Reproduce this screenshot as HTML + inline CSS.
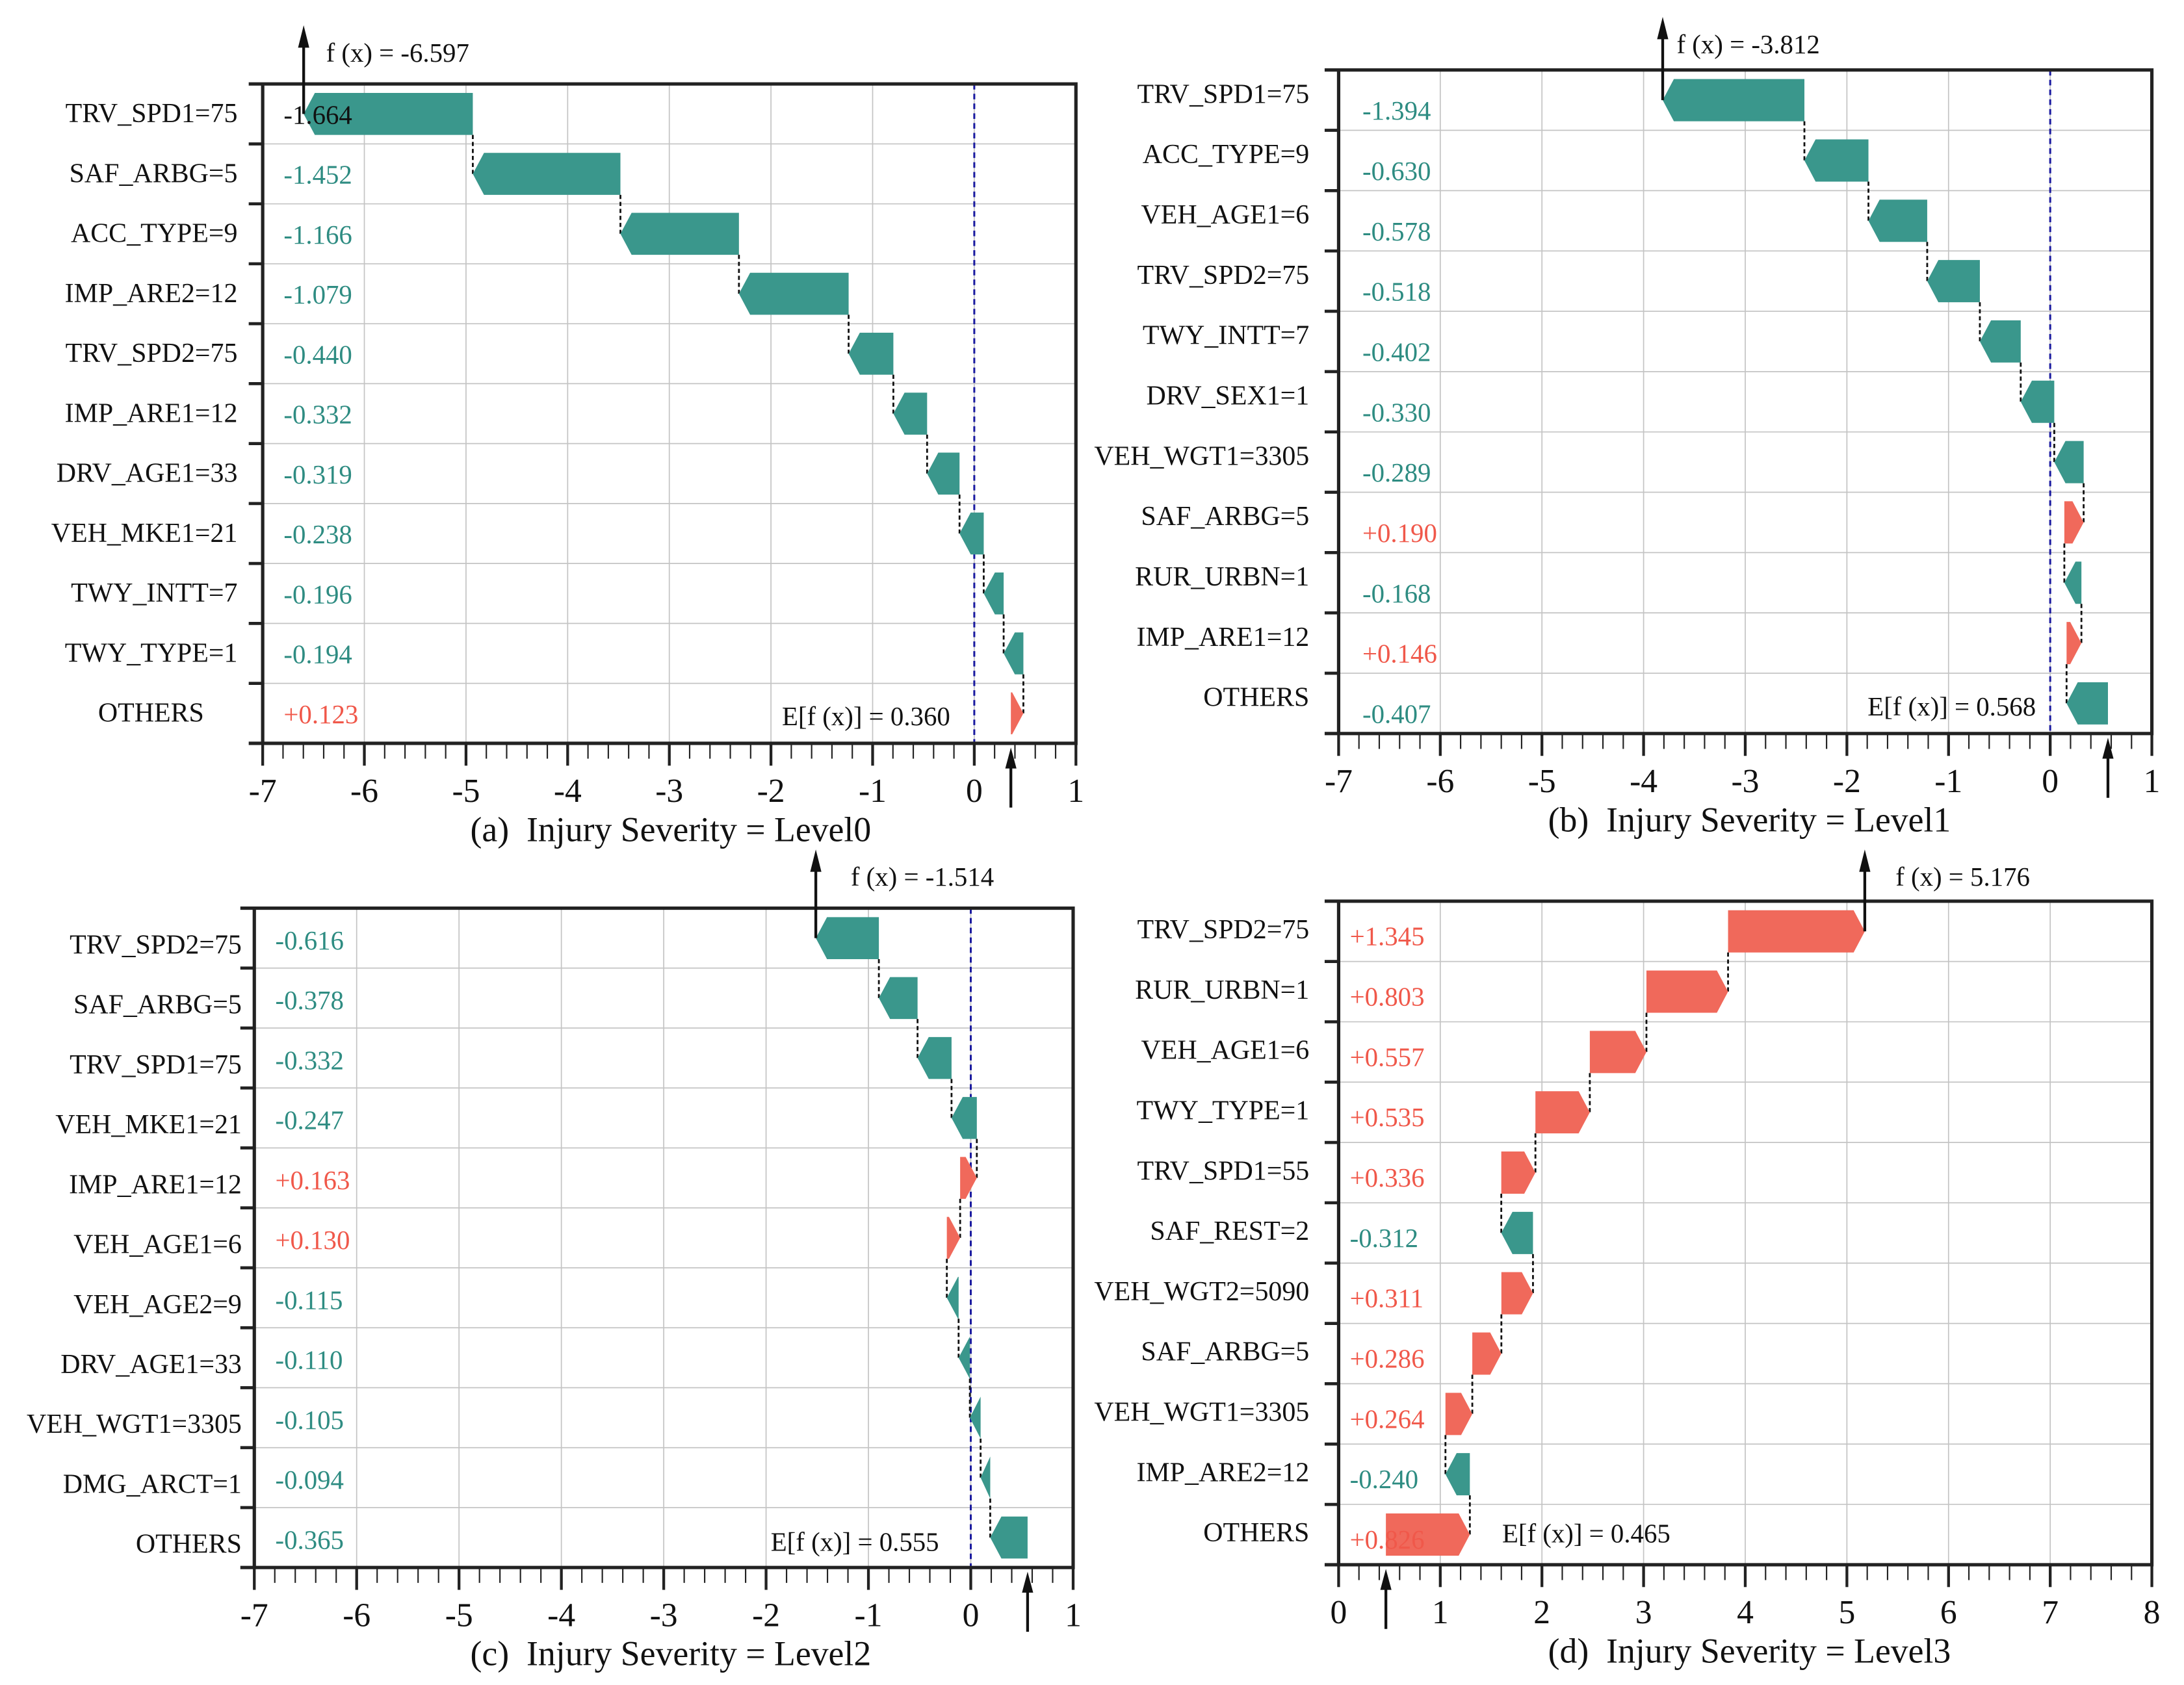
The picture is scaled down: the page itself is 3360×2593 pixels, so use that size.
<!DOCTYPE html>
<html><head><meta charset="utf-8"><style>
html,body{margin:0;padding:0;background:#fff;}
svg{display:block;}
text{font-family:"Liberation Serif",serif;}
</style></head>
<body>
<svg id="fig" xmlns="http://www.w3.org/2000/svg" width="3360" height="2593" viewBox="0 0 1563 1206"></svg>
<script>
// ---- Panel (a) data ----
const catsA = ["TRV_SPD1=75","SAF_ARBG=5","ACC_TYPE=9","IMP_ARE2=12","TRV_SPD2=75","IMP_ARE1=12","DRV_AGE1=33","VEH_MKE1=21","TWY_INTT=7","TWY_TYPE=1","OTHERS"];
const valsA = [-1.664,-1.452,-1.166,-1.079,-0.440,-0.332,-0.319,-0.238,-0.196,-0.194,0.123];
const baseA = 0.360;
const ticksA = [-7,-6,-5,-4,-3,-2,-1,0,1];
// ---- Panel (b) data ----
const catsB = ["TRV_SPD1=75","ACC_TYPE=9","VEH_AGE1=6","TRV_SPD2=75","TWY_INTT=7","DRV_SEX1=1","VEH_WGT1=3305","SAF_ARBG=5","RUR_URBN=1","IMP_ARE1=12","OTHERS"];
const valsB = [-1.394,-0.630,-0.578,-0.518,-0.402,-0.330,-0.289,0.190,-0.168,0.146,-0.407];
const baseB = 0.568;
const ticksB = [-7,-6,-5,-4,-3,-2,-1,0,1];
// ---- Panel (c) data ----
const catsC = ["TRV_SPD2=75","SAF_ARBG=5","TRV_SPD1=75","VEH_MKE1=21","IMP_ARE1=12","VEH_AGE1=6","VEH_AGE2=9","DRV_AGE1=33","VEH_WGT1=3305","DMG_ARCT=1","OTHERS"];
const valsC = [-0.616,-0.378,-0.332,-0.247,0.163,0.130,-0.115,-0.110,-0.105,-0.094,-0.365];
const baseC = 0.555;
const ticksC = [-7,-6,-5,-4,-3,-2,-1,0,1];
// ---- Panel (d) data ----
const catsD = ["TRV_SPD2=75","RUR_URBN=1","VEH_AGE1=6","TWY_TYPE=1","TRV_SPD1=55","SAF_REST=2","VEH_WGT2=5090","SAF_ARBG=5","VEH_WGT1=3305","IMP_ARE2=12","OTHERS"];
const valsD = [1.345,0.803,0.557,0.535,0.336,-0.312,0.311,0.286,0.264,-0.240,0.826];
const baseD = 0.465;
const ticksD = [0,1,2,3,4,5,6,7,8];

const NS = "http://www.w3.org/2000/svg";
const svg = document.getElementById('fig');
function mk(tag, attrs, parent, txt){
  const e = document.createElementNS(NS, tag);
  for (const k in attrs) e.setAttribute(k, attrs[k]);
  if (txt !== undefined) e.textContent = txt;
  (parent||svg).appendChild(e);
  return e;
}
const TEAL='#3a978c', RED='#f0695b', TEALT='#2e8c82', REDT='#f0584a';

function panel(id, cfg, cats, vals, base, ticks){
  const g = mk('g', {});
  
  
  const {L,R,T,B,lo,hi,blue,title,titleX,valX,labX,eAnchor,eX,eY,fX,fY,labDy,valDy,othersX} = cfg;
  const X = v => L + (v-lo)/(hi-lo)*(R-L);
  const n = cats.length, rh = (B-T)/n;
  for (const t of ticks){
    const gl = mk('line',{x1:X(t),x2:X(t),y1:T,y2:B,stroke:'#c4c4c4','stroke-width':0.8},g);
    
    
  }
  for (let i=1;i<n;i++){
    const y=T+i*rh;
    const hl = mk('line',{x1:L,x2:R,y1:y,y2:y,stroke:'#c4c4c4','stroke-width':0.8},g);
    
    
    const tk = mk('line',{x1:L-10,x2:L,y1:y,y2:y,stroke:'#222','stroke-width':2.2},g);
    
    
  }
  if (blue){
    const bl = mk('line',{x1:X(0),x2:X(0),y1:T,y2:B,stroke:'#1a1aa0','stroke-width':1.4,'stroke-dasharray':'4,3'},g);
    
    
  }
  let cum = base;
  const starts = new Array(n), ends = new Array(n);
  for (let i=n-1;i>=0;i--){ starts[i]=cum; ends[i]=cum+vals[i]; cum=ends[i]; }
  const bh = rh*0.70;
  for (let i=0;i<n;i++){
    const yc = T+(i+0.5)*rh, yt=yc-bh/2, yb=yc+bh/2;
    const x0=X(starts[i]), x1=X(ends[i]);
    let pts;
    if (vals[i]>=0){
      const tip=Math.min(8,x1-x0);
      pts=[[x0,yt],[x1-tip,yt],[x1,yc],[x1-tip,yb],[x0,yb]];
    } else {
      const tip=Math.min(8,x0-x1);
      pts=[[x0,yt],[x1+tip,yt],[x1,yc],[x1+tip,yb],[x0,yb]];
    }
    const p = mk('polygon',{points:pts.map(q=>q.join(',')).join(' '),fill:vals[i]>=0?RED:TEAL},g);
    
    
    if (i<n-1){
      const c = mk('line',{x1:x0,x2:x0,y1:yb,y2:yc+rh,stroke:'#111','stroke-width':1.3,'stroke-dasharray':'3,2'},g);
      
      
    }
    const lx = (i===n-1 && othersX) ? othersX : labX;
    const lt = mk('text',{x:lx,y:yc+labDy,'font-size':19.5,'text-anchor':'end',fill:'#111'},g,cats[i]);
    
    
    const s = (vals[i]>=0?'+':'')+vals[i].toFixed(3);
    let col = vals[i]>=0?REDT:TEALT;
    if (id==='a' && i===0) col='#111';
    const vt = mk('text',{x:valX,y:yc+valDy,'font-size':19,fill:col},g,s);
    
    
  }
  const fr = mk('path',{d:`M${L-10},${T} H${R} V${B} H${L-10} M${L},${T} V${B}`,fill:'none',stroke:'#222','stroke-width':2.4},g);
  
  
  for (let k=0;k<ticks.length;k++){
    const t=ticks[k];
    const mj = mk('line',{x1:X(t),x2:X(t),y1:B,y2:B+16,stroke:'#222','stroke-width':2},g);
    
    
    const tl = mk('text',{x:X(t),y:B+42,'font-size':24,'text-anchor':'middle',fill:'#111'},g,String(t));
    
    
    if (k<ticks.length-1){
      for (let m=1;m<5;m++){
        const xm = X(t+m*(ticks[k+1]-t)/5);
        const mn = mk('line',{x1:xm,x2:xm,y1:B,y2:B+11,stroke:'#222','stroke-width':1},g);
        
        
      }
    }
  }
  const tt = mk('text',{x:titleX,y:B+70,'font-size':25,'text-anchor':'middle',fill:'#111'},g,title);
  
  
  const ex = X(base);
  const ea = mk('line',{x1:ex,x2:ex,y1:B+46,y2:B+14,stroke:'#111','stroke-width':2},g);
  
  
  const eh = mk('polygon',{points:`${ex-4},${B+18} ${ex+4},${B+18} ${ex},${B+3}`,fill:'#111'},g);
  
  
  const et = mk('text',{x:eX,y:eY,'font-size':19,'text-anchor':eAnchor,fill:'#111'},g,'E[f (x)] = '+base.toFixed(3));
  
  
  const fx = X(cum), y0 = T+0.5*rh;
  const fa = mk('line',{x1:fx,x2:fx,y1:y0,y2:fY-12,stroke:'#111','stroke-width':2},g);
  
  
  const fh = mk('polygon',{points:`${fx-4},${fY-10} ${fx+4},${fY-10} ${fx},${fY-26}`,fill:'#111'},g);
  
  
  const ft = mk('text',{x:fx+fX,y:fY,'font-size':19,fill:'#111'},g,'f (x) = '+cum.toFixed(3));
  
  
}

panel('a',{L:188,R:770,T:60,B:532,lo:-7,hi:1,blue:true,title:'(a)\u00a0 Injury Severity = Level0',titleX:480,valX:203,labX:170,othersX:146,eAnchor:'end',eX:680,eY:519,fX:16,fY:44,labDy:6,valDy:7},catsA,valsA,baseA,ticksA);
panel('b',{L:958,R:1540,T:50,B:525,lo:-7,hi:1,blue:true,title:'(b)\u00a0 Injury Severity = Level1',titleX:1252,valX:975,labX:937,eAnchor:'end',eX:1457,eY:512,fX:10,fY:38,labDy:2,valDy:14},catsB,valsB,baseB,ticksB);
panel('c',{L:182,R:768,T:650,B:1122,lo:-7,hi:1,blue:true,title:'(c)\u00a0 Injury Severity = Level2',titleX:480,valX:197,labX:173,eAnchor:'end',eX:672,eY:1110,fX:25,fY:634,labDy:11,valDy:8},catsC,valsC,baseC,ticksC);
panel('d',{L:958,R:1540,T:645,B:1120,lo:0,hi:8,blue:false,title:'(d)\u00a0 Injury Severity = Level3',titleX:1252,valX:966,labX:937,eAnchor:'start',eX:1075,eY:1104,fX:22,fY:634,labDy:5,valDy:10},catsD,valsD,baseD,ticksD);
</script>
</body></html>
